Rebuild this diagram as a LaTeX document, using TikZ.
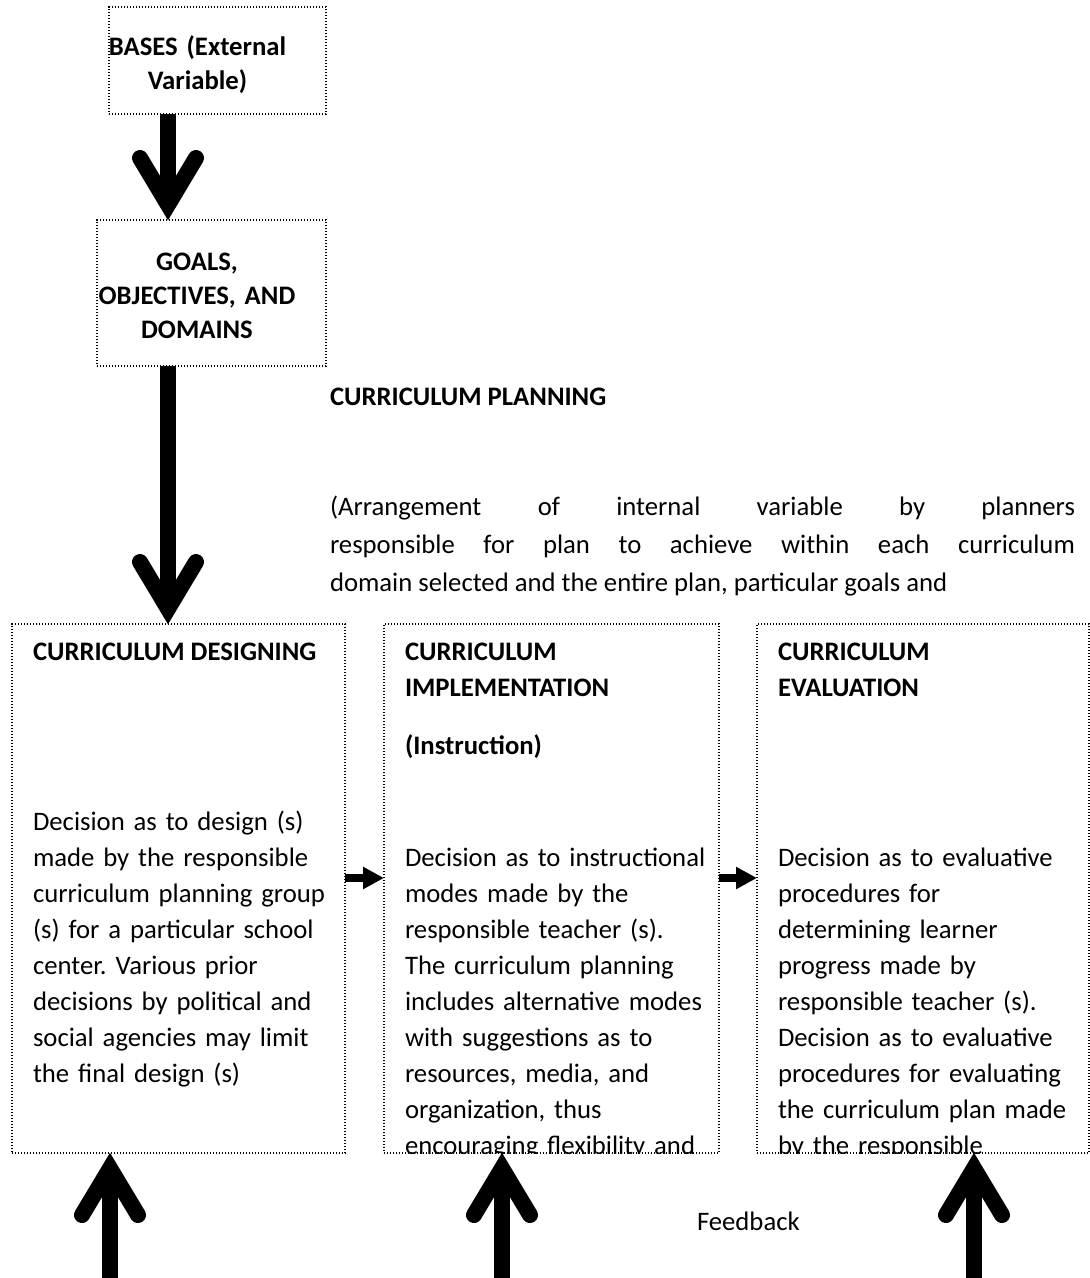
\documentclass[tikz,border=0pt]{standalone}
\usepackage{fontspec}
\setmainfont{Carlito}
\frenchspacing
\usetikzlibrary{calc,arrows.meta}
\newcommand\fatarrow[2]{%
  \draw[fatline] (#1) -- ($(#2)!15pt!(#1)$);
  \draw[fatline, line cap=round, line join=miter]
    ($(#2)!62pt!(#1)!28pt!90:(#2)$) -- ($(#2)!15.3pt!(#1)$) -- ($(#2)!62pt!(#1)!28pt!-90:(#2)$);
}
\tikzset{
  dotbox/.style={draw, line width=1.2pt, dash pattern=on 1.2pt off 1.8pt,
    inner sep=0pt, outer sep=0pt, anchor=north west},
  fatline/.style={line width=16pt},
  smallarr/.style={line width=8pt, -{Triangle[length=21pt,width=21pt]}},
  topbold/.style={inner sep=0pt, outer sep=0pt, anchor=north, align=center,
    text width=240pt, font=\fontsize{26.7}{34}\selectfont\bfseries},
  headtxt/.style={inner sep=0pt, outer sep=0pt, anchor=north west, align=left,
    text width=320pt, font=\fontsize{26.7}{36}\selectfont\bfseries},
  bodytxt/.style={inner sep=0pt, outer sep=0pt, anchor=north west, align=left,
    text width=330pt, font=\fontsize{26.7}{36}\selectfont},
  linetxt/.style={inner sep=0pt, outer sep=0pt, anchor=base west,
    font=\fontsize{26.7}{36}\selectfont},
  boldline/.style={linetxt, font=\fontsize{26.7}{36}\selectfont\bfseries},
}
\begin{document}
\begin{tikzpicture}[x=1pt, y=-1pt]
\useasboundingbox (0,0) rectangle (1090,1278);

% boxes
\node[dotbox, minimum width=217pt, minimum height=107pt] (bases) at (109,7) {};
\node[dotbox, minimum width=229pt, minimum height=146pt] (goals) at (97,220) {};
\node[dotbox, minimum width=333pt, minimum height=529pt] (design) at (12,624) {};
\node[dotbox, minimum width=335pt, minimum height=529pt] (impl) at (384,624) {};
\node[dotbox, minimum width=332pt, minimum height=529pt] (eval) at (757,624) {};

% top box texts
\node[topbold] (basesT) at (197.5,31.2) {\strut BASES (External\\\strut Variable)};
\node[topbold] (goalsT) at (197,246.2) {\strut GOALS,\\\strut OBJECTIVES, AND\\\strut DOMAINS};

% planning text
\node[boldline] (plan) at (330,405) {CURRICULUM PLANNING};
\node[linetxt] (para1) at (330,515) {\makebox[745pt][s]{(Arrangement of internal variable by planners}};
\node[linetxt] (para2) at (330,553) {\makebox[745pt][s]{responsible for plan to achieve within each curriculum}};
\node[linetxt] (para3) at (330,591) {domain selected and the entire plan, particular goals and};

% box 1
\node[boldline] (designH) at (33,660) {CURRICULUM DESIGNING};
\node[bodytxt] (designB) at (33,804.8) {\strut Decision as to design (s)\\
made by the responsible\\
curriculum planning group\\
(s) for a particular school\\
center. Various prior\\
decisions by political and\\
social agencies may limit\\
the final design (s)};

% box 2
\node[headtxt] (implH) at (405,634.8) {\strut CURRICULUM\\IMPLEMENTATION};
\node[boldline] (implI) at (405,754) {(Instruction)};
\begin{scope}
\clip (impl.north west) rectangle (impl.south east);
\node[bodytxt] (implB) at (405,840.8) {\strut Decision as to instructional\\
modes made by the\\
responsible teacher (s).\\
The curriculum planning\\
includes alternative modes\\
with suggestions as to\\
resources, media, and\\
organization, thus\\
encouraging flexibility and\\
variety};
\end{scope}

% box 3
\node[headtxt] (evalH) at (778,634.8) {\strut CURRICULUM\\EVALUATION};
\begin{scope}
\clip (eval.north west) rectangle (eval.south east);
\node[bodytxt, text width=305pt] (evalB) at (778,840.8) {\strut Decision as to evaluative\\
procedures for\\
determining learner\\
progress made by\\
responsible teacher (s).\\
Decision as to evaluative\\
procedures for evaluating\\
the curriculum plan made\\
by the responsible\\
planners};
\end{scope}

% feedback label
\node[linetxt] (fb) at (697,1230) {Feedback};

% arrows
\coordinate (ax) at (168,0);
\coordinate (a1s) at (bases.south -| ax);
\coordinate (a1e) at (goals.north -| ax);
\coordinate (a2s) at (goals.south -| ax);
\coordinate (a2e) at (design.north -| ax);
\fatarrow{a1s}{a1e}
\fatarrow{a2s}{a2e}

\coordinate (f1) at (110,1278);
\coordinate (f2) at (502,1278);
\coordinate (f3) at (974,1278);
\coordinate (t1) at (design.south -| f1);
\coordinate (t2) at (impl.south -| f2);
\coordinate (t3) at (eval.south -| f3);
\fatarrow{f1}{t1}
\fatarrow{f2}{t2}
\fatarrow{f3}{t3}

\draw[smallarr] ([yshift=10.5pt]design.east) -- ([yshift=10.5pt]impl.west);
\draw[smallarr] ([yshift=10.5pt]impl.east) -- ([yshift=10.5pt]eval.west);
\end{tikzpicture}
\end{document}
